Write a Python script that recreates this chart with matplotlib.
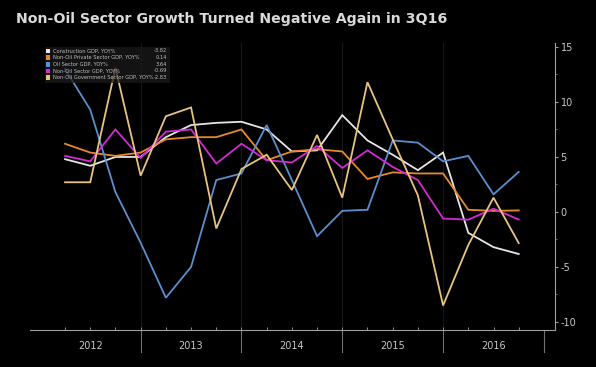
import matplotlib.pyplot as plt
import matplotlib.transforms as mtransforms
import numpy as np

# quarterly YoY growth, 1Q12 .. 3Q16
construction = [4.8, 4.2, 5.0, 5.0, 6.8, 7.9, 8.1, 8.2, 7.5, 5.5, 5.6, 8.8, 6.5, 5.2, 3.8, 5.4, -1.9, -3.2, -3.82]
non_oil_private = [6.2, 5.4, 5.1, 5.4, 6.6, 6.8, 6.8, 7.5, 4.7, 5.5, 5.7, 5.5, 3.0, 3.6, 3.5, 3.5, 0.2, 0.1, 0.14]
oil_sector = [13.0, 9.3, 1.8, -2.8, -7.8, -5.0, 2.9, 3.5, 7.9, 2.9, -2.2, 0.1, 0.2, 6.5, 6.3, 4.6, 5.1, 1.6, 3.64]
non_oil = [5.1, 4.6, 7.5, 4.9, 7.3, 7.5, 4.4, 6.2, 4.7, 4.5, 6.0, 4.0, 5.6, 4.1, 2.9, -0.6, -0.7, 0.3, -0.69]
non_oil_gov = [2.7, 2.7, 13.1, 3.3, 8.7, 9.5, -1.5, 3.9, 5.2, 2.0, 7.0, 1.3, 11.8, 6.6, 1.5, -8.5, -3.0, 1.3, -2.83]

years = ["2012", "2013", "2014", "2015", "2016"]
y_ticks = [15, 10, 5, 0, -5, -10]

series = [
    ("Construction GDP, YOY%", construction, "#e6e6e6"),
    ("Non-Oil Private Sector GDP, YOY%", non_oil_private, "#e8892c"),
    ("Oil Sector GDP, YOY%", oil_sector, "#5a8fd0"),
    ("Non-Oil Sector GDP, YOY%", non_oil, "#d42ad4"),
    ("Non-Oil Government Sector GDP, YOY%", non_oil_gov, "#e9c47e"),
]

W, H = 596, 367
fig = plt.figure(figsize=(W / 100, H / 100), dpi=100, facecolor="black")
ax = fig.add_axes([30 / W, (H - 330) / H, (555 - 30) / W, (330 - 43) / H])
ax.set_facecolor("black")

x = np.arange(len(construction))
# faint year grid
for b in [3, 7, 11, 15]:
    ax.axvline(b, color="#161616", lw=0.8, zorder=0)

for name, vals, col in series:
    ax.plot(x, vals, color=col, lw=1.3, solid_joinstyle="miter", zorder=3)

ax.set_xlim(-1.39, 19.44)
ax.set_ylim(-10.73, 15.36)

for s in ["top", "left"]:
    ax.spines[s].set_visible(False)
ax.spines["right"].set_color("#a0a0a0")
ax.spines["bottom"].set_color("#a0a0a0")
ax.spines["right"].set_linewidth(0.8)
ax.spines["bottom"].set_linewidth(0.8)

ax.yaxis.tick_right()
ax.set_yticks(y_ticks)
ax.set_yticklabels([str(v) for v in y_ticks])
ax.set_yticks(np.arange(-7.5, 15, 5), minor=True)
ax.tick_params(axis="y", which="major", direction="out", length=2, width=0.8,
               color="#a0a0a0", labelcolor="#c8c8c8", labelsize=7, pad=2)
ax.tick_params(axis="y", which="minor", direction="out", length=1.5, width=0.6, color="#808080")

ax.set_xticks(x)
ax.set_xticklabels([])
ax.tick_params(axis="x", which="major", direction="in", length=2, width=0.6, color="#a0a0a0")

# year separators and labels below the axis
trans = mtransforms.blended_transform_factory(ax.transData, ax.transAxes)
for b in [3, 7, 11, 15, 19]:
    ax.plot([b, b], [0, -0.077], transform=trans, color="#707070", lw=0.8, clip_on=False)
for i, yr in enumerate(years):
    ax.text(1 + 4 * i, -0.056, yr, transform=trans, ha="center", va="center",
            color="#c8c8c8", fontsize=7)

# legend box (semi transparent, lines show through)
lx0, ly0, lx1, ly1 = 45, 47, 170, 83
fig.patches.append(plt.Rectangle((lx0 / W, 1 - ly1 / H), (lx1 - lx0) / W, (ly1 - ly0) / H,
                                 transform=fig.transFigure, facecolor="#1a1a1a", alpha=0.75,
                                 edgecolor="none", zorder=5))
for k, (name, vals, col) in enumerate(series):
    yy = 1 - (51 + 6.65 * k) / H
    fig.patches.append(plt.Rectangle((46 / W, yy - 2.2 / H), 4.4 / W, 4.4 / H,
                                     transform=fig.transFigure, facecolor=col,
                                     edgecolor="none", zorder=6))
    fig.text(53 / W, yy, name, color="#bdbdbd", fontsize=3.7, va="center", ha="left", zorder=7)
    fig.text(167 / W, yy, "%.2f" % vals[-1], color="#bdbdbd", fontsize=3.7,
             va="center", ha="right", zorder=7)

fig.text(16 / W, 1 - 19 / H, "Non-Oil Sector Growth Turned Negative Again in 3Q16",
         color="#d9d9d9", fontsize=10.2, fontweight="bold", va="center", ha="left")

fig.savefig("out.png", dpi=100, facecolor="black")
